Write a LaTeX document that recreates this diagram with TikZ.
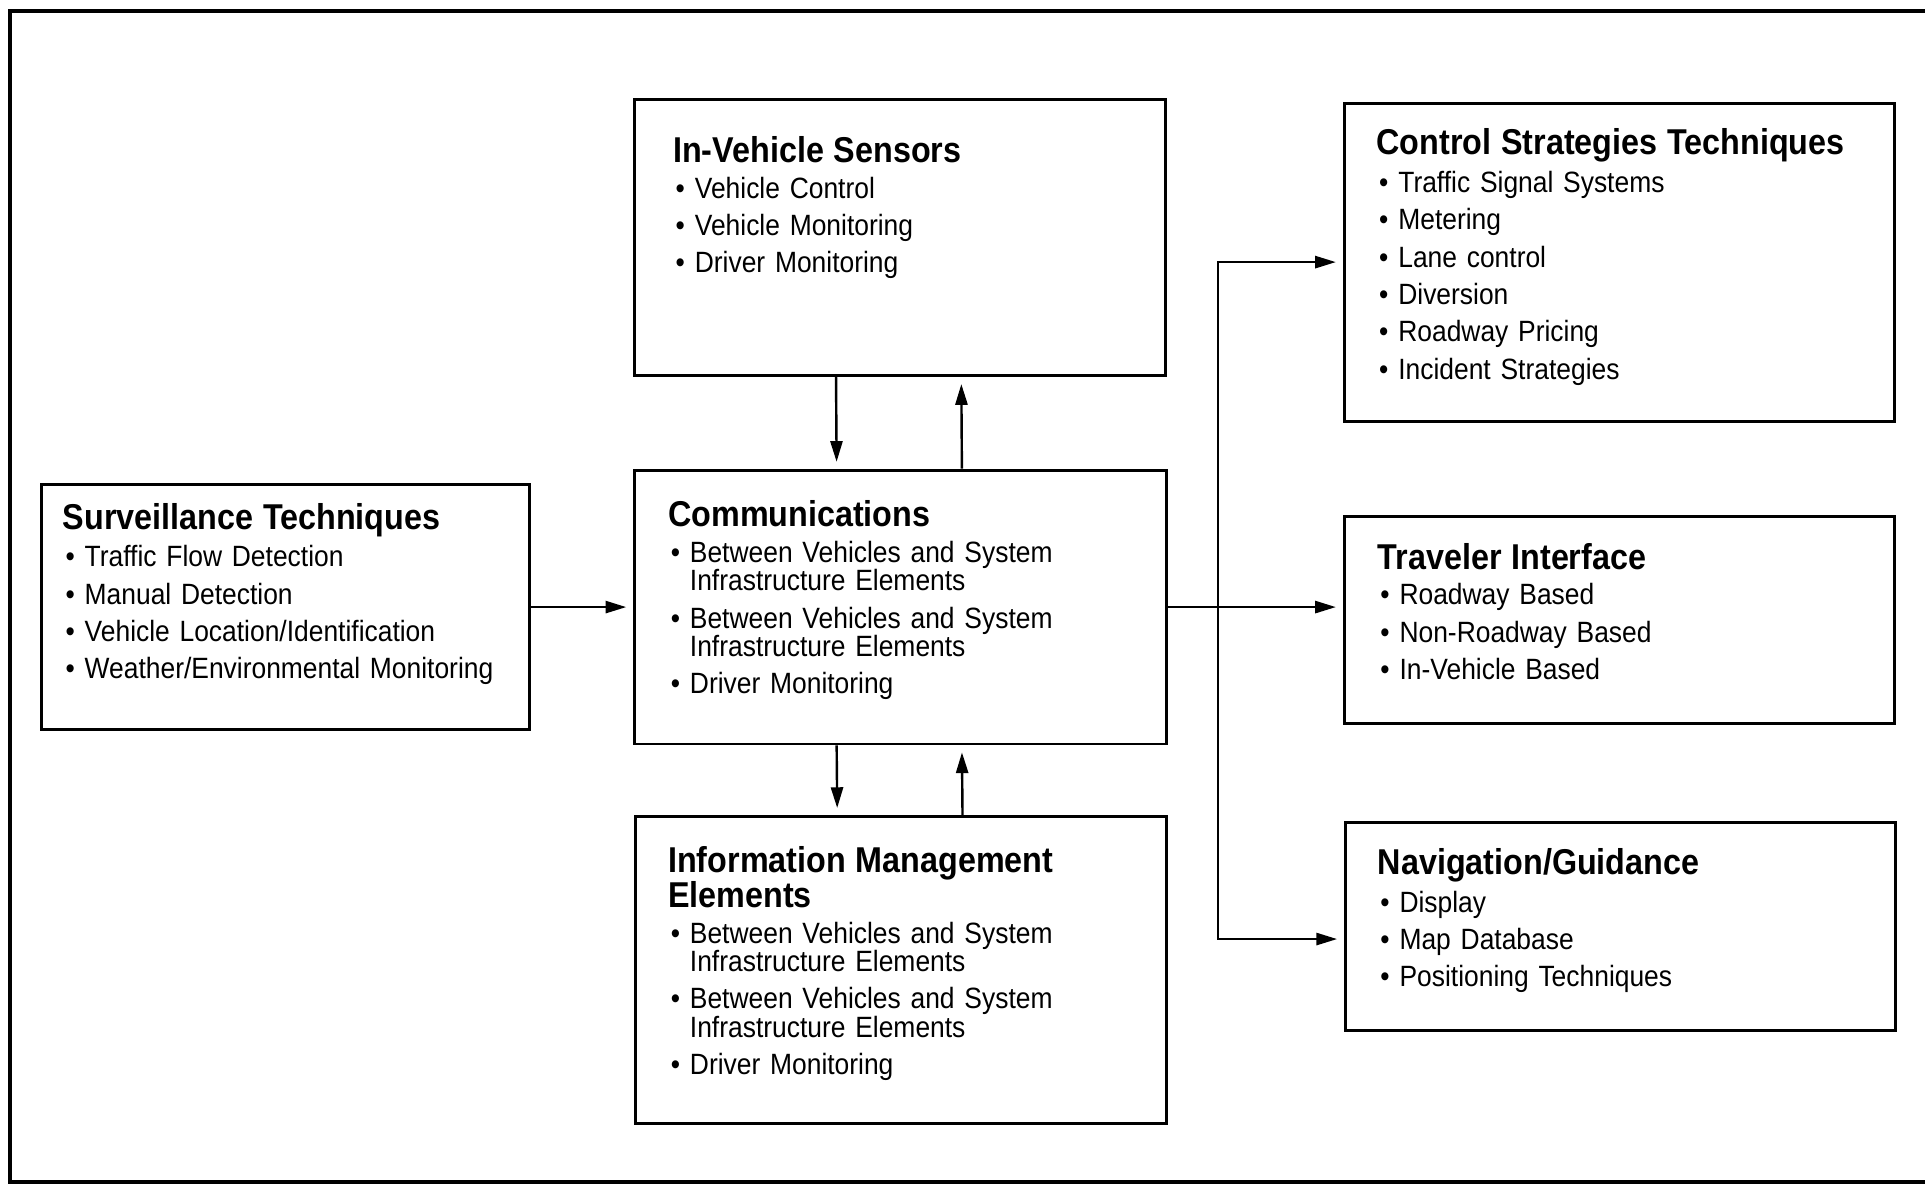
\documentclass[tikz,border=0pt]{standalone}
\usepackage{fontspec}
\setmainfont{Liberation Sans}[FakeStretch=0.9]
\usetikzlibrary{arrows.meta}
\setlength{\lineskiplimit}{-6pt}
\newcommand{\ttl}[1]{{\bfseries\fontsize{20.8}{20}\selectfont #1\par}\vspace{-0.9pt}}
\newcommand{\itm}[1]{\par\vspace{5.2pt}\hangindent=12.6pt\hangafter=1\noindent\makebox[12.6pt][l]{\hspace{1.5pt}\textbullet}#1}
\begin{document}
\begin{tikzpicture}[x=0.025cm, y=-0.025cm,
    box/.style={draw, line width=1.7pt, inner sep=0pt},
    txt/.style={anchor=base west, inner sep=0pt, text width=10cm, align=left, font=\fontsize{17}{16.4}\selectfont},
    arr/.style={-{Triangle[length=12pt,width=7pt]}, line width=1.4pt, shorten >=4pt}]
    \useasboundingbox (0,0) rectangle (1568,964);
    \draw[line width=2.3pt] (1600,9) -- (8,9) -- (8,962.5) -- (1600,962.5);
    % boxes
    \node[box, minimum width=10.8cm, minimum height=5.625cm] at (733,193.5) (sens) {};
    \node[box, minimum width=9.925cm, minimum height=4.975cm] at (232.5,494.5) (surv) {};
    \node[box, minimum width=10.825cm, minimum height=5.575cm] at (733.5,494.5) (comm) {};
    \node[box, minimum width=10.8cm, minimum height=6.25cm] at (734,790) (info) {};
    \node[box, minimum width=11.2cm, minimum height=6.475cm] at (1319,213.5) (ctrl) {};
    \node[box, minimum width=11.2cm, minimum height=4.2cm] at (1319,505) (trav) {};
    \node[box, minimum width=11.2cm, minimum height=4.225cm] at (1320,754.5) (nav) {};
    % texts
    \node[txt] at (548,132.5) (sens-t) {\ttl{In-Vehicle Sensors}\itm{Vehicle Control}\itm{Vehicle Monitoring}\itm{Driver Monitoring}};
    \node[txt] at (51,431) (surv-t) {\ttl{Surveillance Techniques}\itm{Traffic Flow Detection}\itm{Manual Detection}\itm{Vehicle Location/Identification}\itm{Weather/Environmental Monitoring}};
    \node[txt] at (544,429) (comm-t) {\ttl{Communications}\itm{Between Vehicles and System\newline Infrastructure Elements}\itm{Between Vehicles and System\newline Infrastructure Elements}\itm{Driver Monitoring}};
    \node[txt] at (544,711) (info-t) {\ttl{Information Management\newline Elements}\itm{Between Vehicles and System\newline Infrastructure Elements}\itm{Between Vehicles and System\newline Infrastructure Elements}\itm{Driver Monitoring}};
    \node[txt] at (1121,126) (ctrl-t) {\ttl{Control Strategies Techniques}\itm{Traffic Signal Systems}\itm{Metering}\itm{Lane control}\itm{Diversion}\itm{Roadway Pricing}\itm{Incident Strategies}};
    \node[txt] at (1122,463.5) (trav-t) {\ttl{Traveler Interface}\itm{Roadway Based}\itm{Non-Roadway Based}\itm{In-Vehicle Based}};
    \node[txt] at (1122,712) (nav-t) {\ttl{Navigation/Guidance}\itm{Display}\itm{Map Database}\itm{Positioning Techniques}};
    % connectors
    \draw[arr] ([xshift=-1.3cm]sens.south) -- ([xshift=-1.3cm]comm.north);
    \draw[arr] ([xshift=1.25cm]comm.north) -- ([xshift=1.25cm]sens.south);
    \draw[arr] ([xshift=-1.3cm]comm.south) -- ([xshift=-1.3cm]info.north);
    \draw[arr] ([xshift=1.25cm]info.north) -- ([xshift=1.25cm]comm.south);
    \draw[arr] (surv.east) -- (surv.east -| comm.west);
    \draw[arr] (comm.east) -- (comm.east -| trav.west);
    \coordinate (split) at ([xshift=1.025cm]comm.east);
    \draw[arr] (split) |- (ctrl.west);
    \draw[arr] (split) |- ([yshift=-0.26cm]nav.west);
\end{tikzpicture}
\end{document}
